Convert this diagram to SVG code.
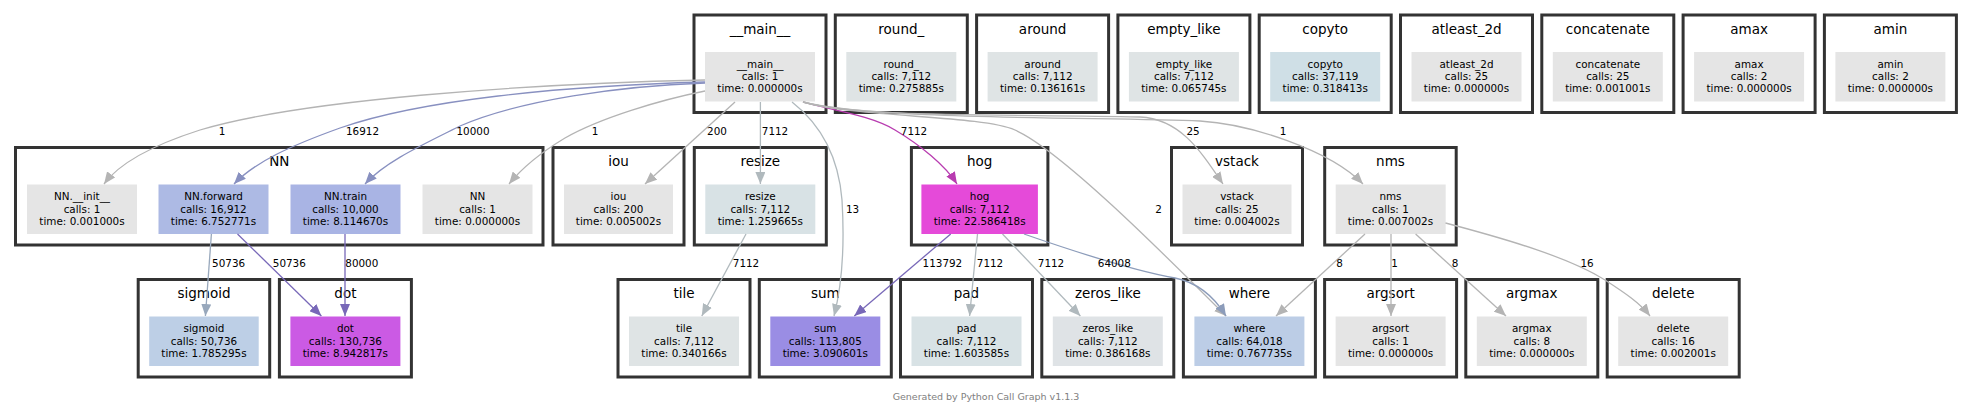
<svg xmlns="http://www.w3.org/2000/svg" width="1972" height="415" viewBox="0 0 1972 415">
<style>
.cl{fill:#fff;stroke:#333;stroke-width:3}
.ct{font-family:"DejaVu Sans",Verdana,sans-serif;font-size:13.5px;text-anchor:middle;fill:#000}
.nt{font-family:"DejaVu Sans",Verdana,sans-serif;font-size:10.4px;text-anchor:middle;fill:#000}
.el{font-family:"DejaVu Sans",Verdana,sans-serif;font-size:10.4px;text-anchor:middle;fill:#000}
.e{fill:none;stroke-width:1.3}
.g{stroke:#b4b4b4}
.gb{stroke:#b0b9bd}
.bl{stroke:#8890c0}
.mg{stroke:#b83cb0}
.pu{stroke:#7868b8}
.sb{stroke:#98a8bc}
.wb{stroke:#8c9cba}
.foot{font-family:"DejaVu Sans",Verdana,sans-serif;font-size:9.5px;text-anchor:middle;fill:#808080}
</style>
<defs>
<marker id="ag" markerUnits="userSpaceOnUse" markerWidth="12" markerHeight="10" viewBox="0 0 12 10" refX="12" refY="5" orient="auto"><path d="M0,0L12,5L0,10z" fill="#b4b4b4"/></marker>
<marker id="agb" markerUnits="userSpaceOnUse" markerWidth="12" markerHeight="10" viewBox="0 0 12 10" refX="12" refY="5" orient="auto"><path d="M0,0L12,5L0,10z" fill="#b0b9bd"/></marker>
<marker id="abl" markerUnits="userSpaceOnUse" markerWidth="12" markerHeight="10" viewBox="0 0 12 10" refX="12" refY="5" orient="auto"><path d="M0,0L12,5L0,10z" fill="#8890c0"/></marker>
<marker id="amg" markerUnits="userSpaceOnUse" markerWidth="12" markerHeight="10" viewBox="0 0 12 10" refX="12" refY="5" orient="auto"><path d="M0,0L12,5L0,10z" fill="#b83cb0"/></marker>
<marker id="apu" markerUnits="userSpaceOnUse" markerWidth="12" markerHeight="10" viewBox="0 0 12 10" refX="12" refY="5" orient="auto"><path d="M0,0L12,5L0,10z" fill="#7868b8"/></marker>
<marker id="asb" markerUnits="userSpaceOnUse" markerWidth="12" markerHeight="10" viewBox="0 0 12 10" refX="12" refY="5" orient="auto"><path d="M0,0L12,5L0,10z" fill="#98a8bc"/></marker>
<marker id="awb" markerUnits="userSpaceOnUse" markerWidth="12" markerHeight="10" viewBox="0 0 12 10" refX="12" refY="5" orient="auto"><path d="M0,0L12,5L0,10z" fill="#8c9cba"/></marker>
</defs>
<rect width="1972" height="415" fill="#fff"/>

<!-- top row -->
<g id="main" transform="translate(694,15)"><rect class="cl" width="132" height="97.5"/><text class="ct" x="66" y="18.5">__main__</text><rect x="11" y="37" width="110" height="49.5" fill="#e5e5e5"/><text class="nt"><tspan x="66" y="52.8">__main__</tspan><tspan x="66" y="65.1">calls: 1</tspan><tspan x="66" y="77.4">time: 0.000000s</tspan></text></g>
<g id="round_" transform="translate(835.3,15)"><rect class="cl" width="132" height="97.5"/><text class="ct" x="66" y="18.5">round_</text><rect x="11" y="37" width="110" height="49.5" fill="#dfe4e5"/><text class="nt"><tspan x="66" y="52.8">round_</tspan><tspan x="66" y="65.1">calls: 7,112</tspan><tspan x="66" y="77.4">time: 0.275885s</tspan></text></g>
<g id="around" transform="translate(976.6,15)"><rect class="cl" width="132" height="97.5"/><text class="ct" x="66" y="18.5">around</text><rect x="11" y="37" width="110" height="49.5" fill="#dfe4e5"/><text class="nt"><tspan x="66" y="52.8">around</tspan><tspan x="66" y="65.1">calls: 7,112</tspan><tspan x="66" y="77.4">time: 0.136161s</tspan></text></g>
<g id="empty_like" transform="translate(1117.9,15)"><rect class="cl" width="132" height="97.5"/><text class="ct" x="66" y="18.5">empty_like</text><rect x="11" y="37" width="110" height="49.5" fill="#dfe4e5"/><text class="nt"><tspan x="66" y="52.8">empty_like</tspan><tspan x="66" y="65.1">calls: 7,112</tspan><tspan x="66" y="77.4">time: 0.065745s</tspan></text></g>
<g id="copyto" transform="translate(1259.2,15)"><rect class="cl" width="132" height="97.5"/><text class="ct" x="66" y="18.5">copyto</text><rect x="11" y="37" width="110" height="49.5" fill="#cfdfe6"/><text class="nt"><tspan x="66" y="52.8">copyto</tspan><tspan x="66" y="65.1">calls: 37,119</tspan><tspan x="66" y="77.4">time: 0.318413s</tspan></text></g>
<g id="atleast_2d" transform="translate(1400.5,15)"><rect class="cl" width="132" height="97.5"/><text class="ct" x="66" y="18.5">atleast_2d</text><rect x="11" y="37" width="110" height="49.5" fill="#e5e5e5"/><text class="nt"><tspan x="66" y="52.8">atleast_2d</tspan><tspan x="66" y="65.1">calls: 25</tspan><tspan x="66" y="77.4">time: 0.000000s</tspan></text></g>
<g id="concatenate" transform="translate(1541.8,15)"><rect class="cl" width="132" height="97.5"/><text class="ct" x="66" y="18.5">concatenate</text><rect x="11" y="37" width="110" height="49.5" fill="#e5e5e5"/><text class="nt"><tspan x="66" y="52.8">concatenate</tspan><tspan x="66" y="65.1">calls: 25</tspan><tspan x="66" y="77.4">time: 0.001001s</tspan></text></g>
<g id="amax" transform="translate(1683.1,15)"><rect class="cl" width="132" height="97.5"/><text class="ct" x="66" y="18.5">amax</text><rect x="11" y="37" width="110" height="49.5" fill="#e5e5e5"/><text class="nt"><tspan x="66" y="52.8">amax</tspan><tspan x="66" y="65.1">calls: 2</tspan><tspan x="66" y="77.4">time: 0.000000s</tspan></text></g>
<g id="amin" transform="translate(1824.4,15)"><rect class="cl" width="132" height="97.5"/><text class="ct" x="66" y="18.5">amin</text><rect x="11" y="37" width="110" height="49.5" fill="#e5e5e5"/><text class="nt"><tspan x="66" y="52.8">amin</tspan><tspan x="66" y="65.1">calls: 2</tspan><tspan x="66" y="77.4">time: 0.000000s</tspan></text></g>

<!-- middle row -->
<g id="NN-cluster" transform="translate(15.5,147.5)"><rect class="cl" width="527.5" height="97.5"/><text class="ct" x="263.75" y="18.5">NN</text>
<g id="NN.__init__"><rect x="11.5" y="37" width="110" height="49.5" fill="#e5e5e5"/><text class="nt"><tspan x="66.5" y="52.8">NN.__init__</tspan><tspan x="66.5" y="65.1">calls: 1</tspan><tspan x="66.5" y="77.4">time: 0.001000s</tspan></text></g>
<g id="NN.forward"><rect x="143" y="37" width="110" height="49.5" fill="#adbae4"/><text class="nt"><tspan x="198" y="52.8">NN.forward</tspan><tspan x="198" y="65.1">calls: 16,912</tspan><tspan x="198" y="77.4">time: 6.752771s</tspan></text></g>
<g id="NN.train"><rect x="275" y="37" width="110" height="49.5" fill="#a9b4e4"/><text class="nt"><tspan x="330" y="52.8">NN.train</tspan><tspan x="330" y="65.1">calls: 10,000</tspan><tspan x="330" y="77.4">time: 8.114670s</tspan></text></g>
<g id="NN"><rect x="407" y="37" width="110" height="49.5" fill="#e5e5e5"/><text class="nt"><tspan x="462" y="52.8">NN</tspan><tspan x="462" y="65.1">calls: 1</tspan><tspan x="462" y="77.4">time: 0.000000s</tspan></text></g>
</g>
<g id="iou" transform="translate(553,147.5)"><rect class="cl" width="131" height="97.5"/><text class="ct" x="65.5" y="18.5">iou</text><rect x="11" y="37" width="109" height="49.5" fill="#e5e5e5"/><text class="nt"><tspan x="65.5" y="52.8">iou</tspan><tspan x="65.5" y="65.1">calls: 200</tspan><tspan x="65.5" y="77.4">time: 0.005002s</tspan></text></g>
<g id="resize" transform="translate(694.3,147.5)"><rect class="cl" width="132" height="97.5"/><text class="ct" x="66" y="18.5">resize</text><rect x="11" y="37" width="110" height="49.5" fill="#d8e2e5"/><text class="nt"><tspan x="66" y="52.8">resize</tspan><tspan x="66" y="65.1">calls: 7,112</tspan><tspan x="66" y="77.4">time: 1.259665s</tspan></text></g>
<g id="hog" transform="translate(911.4,147.5)"><rect class="cl" width="136.5" height="97.5"/><text class="ct" x="68.25" y="18.5">hog</text><rect x="10" y="37" width="116.5" height="49.5" fill="#e54ad9"/><text class="nt"><tspan x="68.25" y="52.8">hog</tspan><tspan x="68.25" y="65.1">calls: 7,112</tspan><tspan x="68.25" y="77.4">time: 22.586418s</tspan></text></g>
<g id="vstack" transform="translate(1171.5,147.5)"><rect class="cl" width="131" height="97.5"/><text class="ct" x="65.5" y="18.5">vstack</text><rect x="11" y="37" width="109" height="49.5" fill="#e5e5e5"/><text class="nt"><tspan x="65.5" y="52.8">vstack</tspan><tspan x="65.5" y="65.1">calls: 25</tspan><tspan x="65.5" y="77.4">time: 0.004002s</tspan></text></g>
<g id="nms" transform="translate(1324.7,147.5)"><rect class="cl" width="131.5" height="97.5"/><text class="ct" x="65.75" y="18.5">nms</text><rect x="11" y="37" width="110" height="49.5" fill="#e5e5e5"/><text class="nt"><tspan x="65.75" y="52.8">nms</tspan><tspan x="65.75" y="65.1">calls: 1</tspan><tspan x="65.75" y="77.4">time: 0.007002s</tspan></text></g>

<!-- bottom row -->
<g id="sigmoid" transform="translate(138.2,279.5)"><rect class="cl" width="131.5" height="97.5"/><text class="ct" x="65.75" y="18.5">sigmoid</text><rect x="11" y="37" width="109.5" height="49.5" fill="#bdcfe6"/><text class="nt"><tspan x="65.75" y="52.8">sigmoid</tspan><tspan x="65.75" y="65.1">calls: 50,736</tspan><tspan x="65.75" y="77.4">time: 1.785295s</tspan></text></g>
<g id="dot" transform="translate(279.4,279.5)"><rect class="cl" width="132" height="97.5"/><text class="ct" x="66" y="18.5">dot</text><rect x="11" y="37" width="110" height="49.5" fill="#cb5ae4"/><text class="nt"><tspan x="66" y="52.8">dot</tspan><tspan x="66" y="65.1">calls: 130,736</tspan><tspan x="66" y="77.4">time: 8.942817s</tspan></text></g>
<g id="tile" transform="translate(618,279.5)"><rect class="cl" width="132" height="97.5"/><text class="ct" x="66" y="18.5">tile</text><rect x="11" y="37" width="110" height="49.5" fill="#dfe4e5"/><text class="nt"><tspan x="66" y="52.8">tile</tspan><tspan x="66" y="65.1">calls: 7,112</tspan><tspan x="66" y="77.4">time: 0.340166s</tspan></text></g>
<g id="sum" transform="translate(759.3,279.5)"><rect class="cl" width="132" height="97.5"/><text class="ct" x="66" y="18.5">sum</text><rect x="11" y="37" width="110" height="49.5" fill="#9a8de4"/><text class="nt"><tspan x="66" y="52.8">sum</tspan><tspan x="66" y="65.1">calls: 113,805</tspan><tspan x="66" y="77.4">time: 3.090601s</tspan></text></g>
<g id="pad" transform="translate(900.5,279.5)"><rect class="cl" width="132" height="97.5"/><text class="ct" x="66" y="18.5">pad</text><rect x="11" y="37" width="110" height="49.5" fill="#d8e2e5"/><text class="nt"><tspan x="66" y="52.8">pad</tspan><tspan x="66" y="65.1">calls: 7,112</tspan><tspan x="66" y="77.4">time: 1.603585s</tspan></text></g>
<g id="zeros_like" transform="translate(1041.8,279.5)"><rect class="cl" width="132" height="97.5"/><text class="ct" x="66" y="18.5">zeros_like</text><rect x="11" y="37" width="110" height="49.5" fill="#dfe3e6"/><text class="nt"><tspan x="66" y="52.8">zeros_like</tspan><tspan x="66" y="65.1">calls: 7,112</tspan><tspan x="66" y="77.4">time: 0.386168s</tspan></text></g>
<g id="where" transform="translate(1183.4,279.5)"><rect class="cl" width="132" height="97.5"/><text class="ct" x="66" y="18.5">where</text><rect x="11" y="37" width="110" height="49.5" fill="#bccde6"/><text class="nt"><tspan x="66" y="52.8">where</tspan><tspan x="66" y="65.1">calls: 64,018</tspan><tspan x="66" y="77.4">time: 0.767735s</tspan></text></g>
<g id="argsort" transform="translate(1324.6,279.5)"><rect class="cl" width="132" height="97.5"/><text class="ct" x="66" y="18.5">argsort</text><rect x="11" y="37" width="110" height="49.5" fill="#e5e5e5"/><text class="nt"><tspan x="66" y="52.8">argsort</tspan><tspan x="66" y="65.1">calls: 1</tspan><tspan x="66" y="77.4">time: 0.000000s</tspan></text></g>
<g id="argmax" transform="translate(1465.8,279.5)"><rect class="cl" width="132" height="97.5"/><text class="ct" x="66" y="18.5">argmax</text><rect x="11" y="37" width="110" height="49.5" fill="#e5e5e5"/><text class="nt"><tspan x="66" y="52.8">argmax</tspan><tspan x="66" y="65.1">calls: 8</tspan><tspan x="66" y="77.4">time: 0.000000s</tspan></text></g>
<g id="delete" transform="translate(1607.2,279.5)"><rect class="cl" width="132" height="97.5"/><text class="ct" x="66" y="18.5">delete</text><rect x="11" y="37" width="110" height="49.5" fill="#e5e5e5"/><text class="nt"><tspan x="66" y="52.8">delete</tspan><tspan x="66" y="65.1">calls: 16</tspan><tspan x="66" y="77.4">time: 0.002001s</tspan></text></g>

<!-- connectors -->
<g id="edges">
<path class="e g" marker-end="url(#ag)" d="M705,80 C520,84 300,100 200,130 C150,146 118,165 104,184"/>
<path class="e bl" marker-end="url(#abl)" d="M705,82 C560,86 420,100 340,128 C290,146 255,162 234,184"/>
<path class="e bl" marker-end="url(#abl)" d="M705,83 C620,86 520,100 460,126 C420,146 385,162 365,184"/>
<path class="e g" marker-end="url(#ag)" d="M705,91 C660,100 600,118 565,138 C540,153 522,168 509,184"/>
<path class="e g" marker-end="url(#ag)" d="M735,102 L645,184"/>
<path class="e gb" marker-end="url(#agb)" d="M760.4,102 L760.4,184"/>
<path class="e gb" marker-end="url(#agb)" d="M792,102 C815,120 838,150 842,200 C845,250 842,285 834,316"/>
<path class="e mg" marker-end="url(#amg)" d="M803,102 C830,110 870,115 895,130 C920,145 945,165 957,184"/>
<path class="e g" marker-end="url(#ag)" d="M803,102 C860,118 980,115 1015,130 C1060,150 1160,250 1226,316"/>
<path class="e g" marker-end="url(#ag)" d="M803,102 C860,118 1000,114 1140,117 C1180,119 1200,150 1223,184"/>
<path class="e g" marker-end="url(#ag)" d="M803,102 C870,120 1100,117 1200,121 C1250,124 1330,150 1363,184"/>
<path class="e sb" marker-end="url(#asb)" d="M211.4,234 L205.4,316"/>
<path class="e pu" marker-end="url(#apu)" d="M237.5,234 L321.4,316"/>
<path class="e pu" marker-end="url(#apu)" d="M345,234 L345,316"/>
<path class="e gb" marker-end="url(#agb)" d="M746,234 L701.8,316"/>
<path class="e pu" marker-end="url(#apu)" d="M950.7,234 L854.3,316"/>
<path class="e gb" marker-end="url(#agb)" d="M977.5,234 L969.6,316"/>
<path class="e gb" marker-end="url(#agb)" d="M1002.5,234 L1080.4,316"/>
<path class="e wb" marker-end="url(#awb)" d="M1024,234 C1070,250 1130,270 1175,278 C1200,283 1215,298 1226,316"/>
<path class="e g" marker-end="url(#ag)" d="M1365,234 L1276,316"/>
<path class="e g" marker-end="url(#ag)" d="M1391,234 L1391,316"/>
<path class="e g" marker-end="url(#ag)" d="M1415.6,234 L1506,316"/>
<path class="e g" marker-end="url(#ag)" d="M1445.5,223 C1510,240 1570,258 1605,280 C1625,293 1640,303 1650,316"/>
<text class="el" x="222" y="135">1</text>
<text class="el" x="362.5" y="135">16912</text>
<text class="el" x="473" y="135">10000</text>
<text class="el" x="595" y="135">1</text>
<text class="el" x="717" y="135">200</text>
<text class="el" x="775" y="135">7112</text>
<text class="el" x="914" y="135">7112</text>
<text class="el" x="1193" y="135">25</text>
<text class="el" x="1283" y="135">1</text>
<text class="el" x="852.5" y="213">13</text>
<text class="el" x="1158.5" y="213">2</text>
<text class="el" x="228.6" y="266.5">50736</text>
<text class="el" x="289.3" y="266.5">50736</text>
<text class="el" x="361.8" y="266.5">80000</text>
<text class="el" x="746" y="266.5">7112</text>
<text class="el" x="942.4" y="266.5">113792</text>
<text class="el" x="990" y="266.5">7112</text>
<text class="el" x="1051" y="266.5">7112</text>
<text class="el" x="1114.3" y="266.5">64008</text>
<text class="el" x="1339.5" y="266.5">8</text>
<text class="el" x="1394.6" y="266.5">1</text>
<text class="el" x="1455" y="266.5">8</text>
<text class="el" x="1587" y="266.5">16</text>
</g>
<text class="foot" x="986" y="400">Generated by Python Call Graph v1.1.3</text>
</svg>
